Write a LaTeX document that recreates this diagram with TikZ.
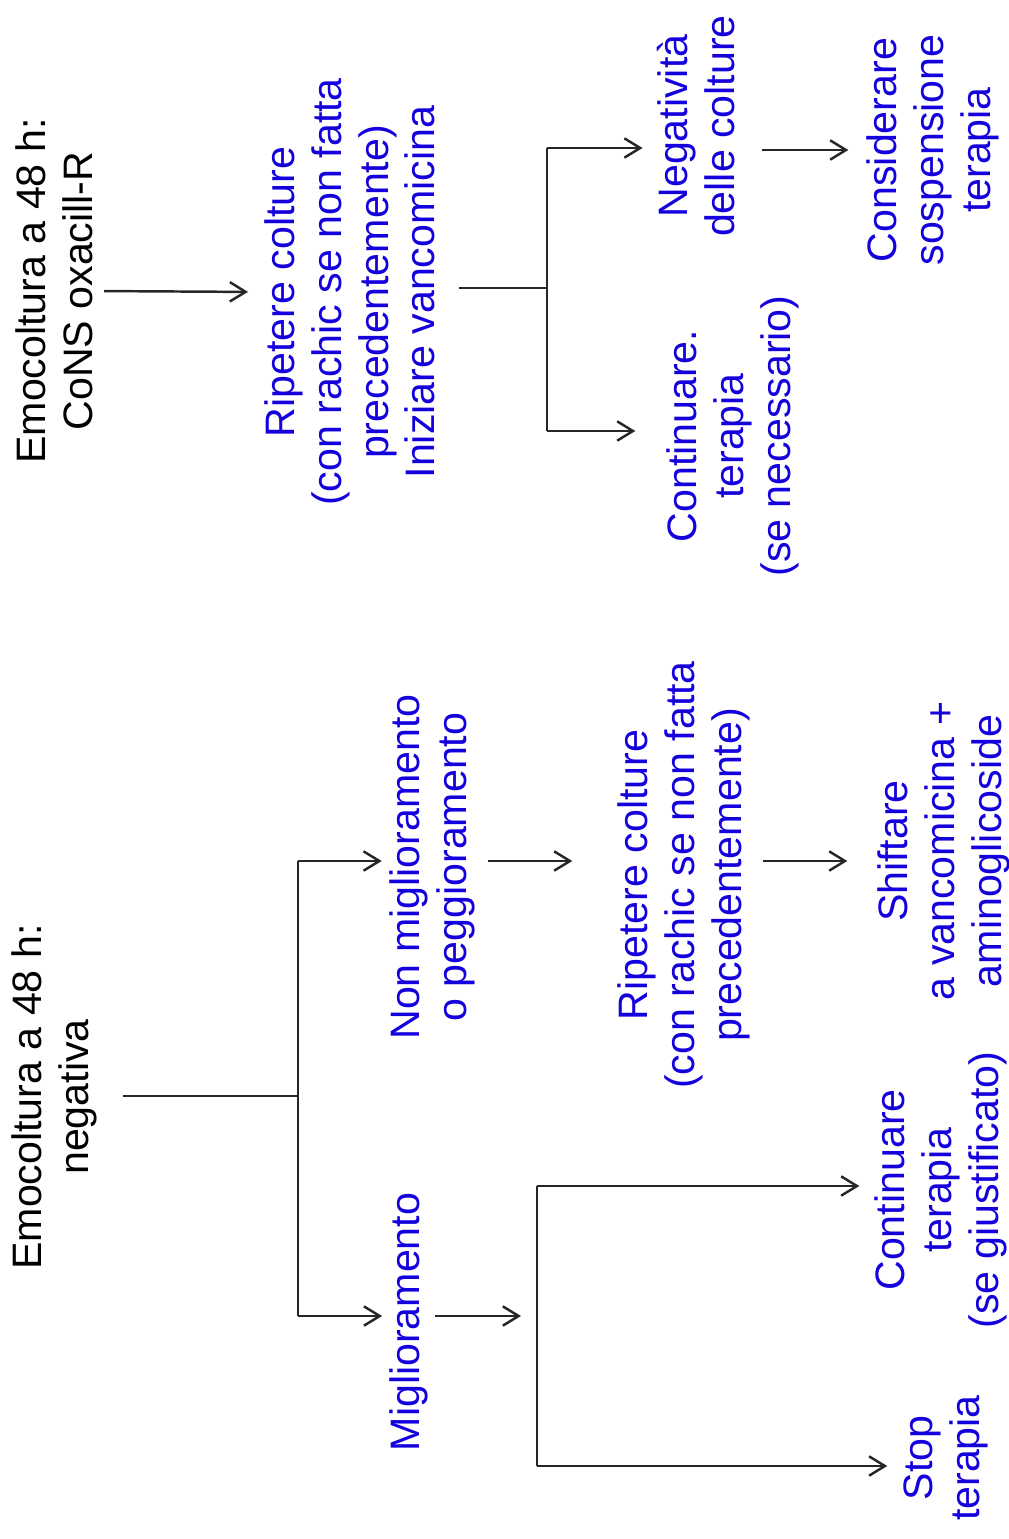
\documentclass[tikz,border=0pt]{standalone}
\usepackage{fontspec}
\setmainfont{Liberation Sans}
\usetikzlibrary{arrows.meta}
\definecolor{flowblue}{RGB}{20,0,220}

\begin{document}
\begin{tikzpicture}[x=0.01cm,y=-0.01cm,
  txt/.style={rotate=90,align=center,inner sep=0pt,font=\fontsize{11.7}{13.3}\selectfont},
  blk/.style={txt,text=black},
  blu/.style={txt,text=flowblue},
  conn/.style={black!85,line width=0.7pt},
  arr/.style={conn,-{Straight Barb[length=4.5pt,width=5.5pt]}}]
\useasboundingbox (0,0) rectangle (1008,1539);

% CoNS branch (top)
\node[blk] (cons) at (54,291) {Emocoltura a 48 h:\\CoNS oxacill-R};
\node[blu] (rip1) at (350,292) {Ripetere colture\\(con rachic se non fatta\\precedentemente)\\Iniziare vancomicina};
\node[blu] (neg) at (696,126) {Negatività\\delle colture};
\node[blu] (cont1) at (733,436) {Continuare.\\terapia\\(se necessario)};
\node[blu] (susp) at (933,150) {Considerare\\sospensione\\terapia};

\coordinate (ta) at (547,288);
\coordinate (tb) at (547,148);
\coordinate (tc) at (547,431);

\draw[arr,shorten <=1.1mm,shorten >=1.6mm] (cons.south) -- (rip1.north);
\draw[conn,shorten <=2.3mm] (rip1.south |- ta) -- (ta);
\draw[conn] (tb) -- (tc);
\draw[arr,shorten >=1.4mm] (tb) -- (neg.north |- tb);
\draw[arr,shorten >=3.1mm] (tc) -- (cont1.north |- tc);
\draw[arr,shorten <=2.7mm,shorten >=1.8mm] (neg.south |- susp.north) -- (susp.north);

% negative branch (bottom)
\node[blk] (emo) at (54,1097) {Emocoltura a 48 h:\\negativa};
\node[blu] (nonmig) at (432,867) {Non miglioramento\\o peggioramento};
\node[blu] (mig) at (409,1322) {Miglioramento};
\node[blu] (rip2) at (684,875) {Ripetere colture\\(con rachic se non fatta\\precedentemente)};
\node[blu] (shift) at (944,851) {Shiftare\\a vancomicina +\\aminoglicoside};
\node[blu] (cont2) at (941,1190) {Continuare\\terapia\\(se giustificato)};
\node[blu] (stop) at (946,1458) {Stop\\terapia};

\coordinate (ba) at (298,1096);
\coordinate (bb) at (298,861);
\coordinate (bc) at (298,1316);
\coordinate (bd) at (537,1316);
\coordinate (be) at (537,1186);
\coordinate (bf) at (537,1466);

\draw[conn,shorten <=2.6mm] (emo.south |- ba) -- (ba);
\draw[conn] (bb) -- (bc);
\draw[arr,shorten >=0.7mm] (bb) -- (nonmig.north |- bb);
\draw[arr,shorten >=0.7mm] (bc) -- (mig.north |- bc);
\draw[arr,shorten <=1.3mm,shorten >=4.5mm] (nonmig.south |- bb) -- (rip2.north |- bb);
\draw[arr,shorten <=1.2mm,shorten >=3mm] (rip2.south |- bb) -- (shift.north |- bb);
\draw[arr,shorten <=0.6mm,shorten >=1.6mm] (mig.south |- bd) -- (bd);
\draw[conn] (be) -- (bf);
\draw[arr,shorten >=1.5mm] (be) -- (cont2.north |- be);
\draw[arr,shorten >=1.6mm] (bf) -- (stop.north |- bf);
\end{tikzpicture}
\end{document}
